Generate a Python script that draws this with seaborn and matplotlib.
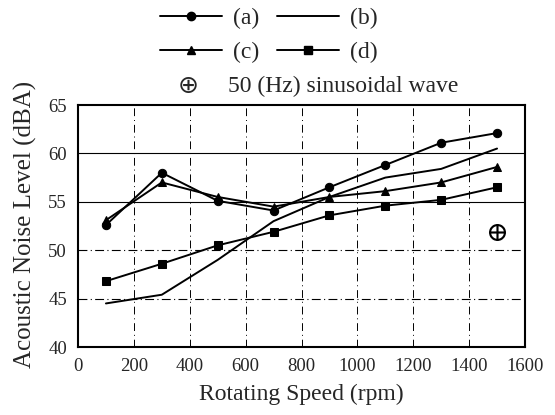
import matplotlib
matplotlib.use("Agg")
import matplotlib.pyplot as plt
import seaborn as sns
import pandas as pd
from matplotlib.lines import Line2D

speed = [100, 300, 500, 700, 900, 1100, 1300, 1500]
series_a = [52.6, 58.0, 55.1, 54.1, 56.5, 58.8, 61.1, 62.1]
series_b = [44.5, 45.4, 49.0, 53.0, 55.5, 57.5, 58.4, 60.5]
series_c = [53.1, 57.0, 55.5, 54.5, 55.5, 56.1, 57.0, 58.6]
series_d = [46.8, 48.6, 50.5, 51.9, 53.6, 54.6, 55.2, 56.5]
labels = ["(a)", "(b)", "(c)", "(d)"]
sine_x = [1500]
sine_y = [51.9]
sine_label = "50 (Hz) sinusoidal wave"
xticks = [0, 200, 400, 600, 800, 1000, 1200, 1400, 1600]
yticks = [40, 45, 50, 55, 60, 65]

sns.set_style("white")
plt.rcParams["font.family"] = ["Liberation Serif", "DejaVu Serif"]
plt.rcParams["mathtext.fontset"] = "dejavuserif"

rows = []
for lab, vals in zip(labels, [series_a, series_b, series_c, series_d]):
    for x, y in zip(speed, vals):
        rows.append({"speed": x, "level": y, "series": lab})
df = pd.DataFrame(rows)

W, H = 555, 415
fig = plt.figure(figsize=(W / 100, H / 100), dpi=100)
ax = fig.add_axes([78 / W, 1 - 347 / H, (525 - 78) / W, (347 - 105) / H])

# grid
for y in yticks[1:-1]:
    ls = "-" if y >= 55 else (0, (8, 3, 1, 3))
    ax.axhline(y, color="black", lw=0.8, ls=ls, zorder=0)
for x in xticks[1:-1]:
    ax.axvline(x, color="black", lw=0.7, ls=(0, (8, 4, 1, 4)), zorder=0)

markers = {"(a)": "o", "(b)": "", "(c)": "^", "(d)": "s"}
sizes = {"(a)": 6, "(b)": 0, "(c)": 6, "(d)": 5.5}
for lab in labels:
    sub = df[df["series"] == lab]
    sns.lineplot(data=sub, x="speed", y="level", ax=ax, color="black", lw=1.4,
                 marker=markers[lab] if markers[lab] else None,
                 markersize=sizes[lab], markeredgecolor="black", legend=False)

sns.scatterplot(x=sine_x, y=sine_y, ax=ax, marker=r"$\oplus$", s=150,
                color="black", linewidth=0, legend=False)

ax.set_xlim(0, 1600)
ax.set_ylim(40, 65)
ax.set_xticks(xticks)
ax.set_yticks(yticks)
ax.tick_params(labelsize=13.5, length=0)
ax.tick_params(axis="x", pad=8)
ax.tick_params(axis="y", pad=8)
ax.set_xlabel("Rotating Speed (rpm)", fontsize=17, labelpad=6)
ax.set_ylabel("Acoustic Noise Level (dBA)", fontsize=18)
ax.yaxis.set_label_coords(-(78 - 37) / (525 - 78), (347 - 224) / (347 - 105))
for s in ax.spines.values():
    s.set_color("black")
    s.set_linewidth(1.5)

# legend order row-wise: (a) (b) / (c) (d)
order = ["(a)", "(c)", "(b)", "(d)"]
handles = [Line2D([], [], color="black", lw=1.4,
                  marker=markers[l] if markers[l] else None, markersize=6)
           for l in order]
fig.legend(handles, order, ncol=2, loc="upper left",
           bbox_to_anchor=(160 / W, 1 - 8 / H), frameon=False, fontsize=17,
           handlelength=2.63, columnspacing=0.75, handletextpad=0.47,
           labelspacing=0.52, borderpad=0, borderaxespad=0)
fig.text(188 / W, 1 - 86 / H, "\u2295", fontsize=18, ha="center", va="center",
         family=["DejaVu Sans"])
fig.text(228 / W, 1 - 86 / H, sine_label, fontsize=17, ha="left", va="center")

fig.savefig("out.png", dpi=100)
